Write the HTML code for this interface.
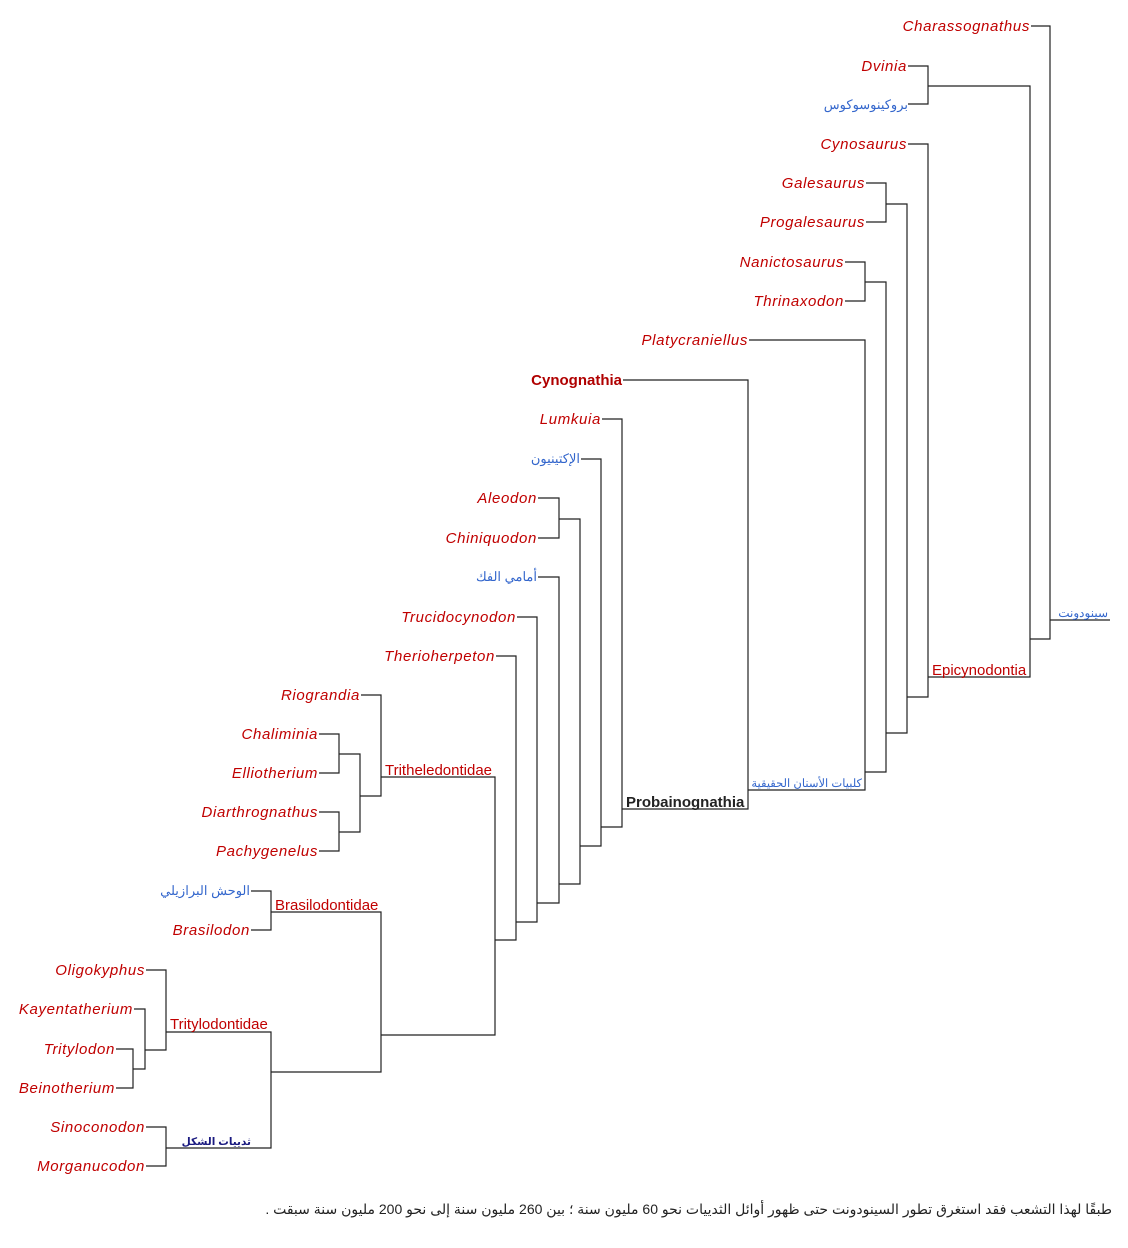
<!DOCTYPE html>
<html><head><meta charset="utf-8"><style>
html,body{margin:0;padding:0;background:#fff;width:1128px;height:1248px;overflow:hidden}
svg{position:absolute;left:0;top:0}
.l{font:italic 15px "Liberation Sans",sans-serif;fill:#c00000;letter-spacing:0.65px;text-anchor:end}
.a{font:13px "Liberation Sans","Noto Sans CJK SC",sans-serif;fill:#3366cc;text-anchor:end}
.c{font:15px "Liberation Sans",sans-serif;fill:#c00000}
.cap{font:14px "Liberation Sans","DejaVu Sans",sans-serif;fill:#222}
</style></head><body>
<svg width="1128" height="1248" viewBox="0 0 1128 1248">
<g fill="none" stroke="#222" stroke-width="1.2">
<path d="M1031 26H1050V639H1030M1050 620H1110"/>
<path d="M908 66H928V104H908M928 86H1030V677H928"/>
<path d="M908 144H928V697H907"/>
<path d="M866 183H886V222H866M886 204H907V733H886"/>
<path d="M845 262H865V301H845M865 282H886V772H865"/>
<path d="M749 340H865V790H748"/>
<path d="M623 380H748V809H622"/>
<path d="M602 419H622V827H601"/>
<path d="M581 459H601V846H580"/>
<path d="M538 498H559V538H538M559 519H580V884H559"/>
<path d="M538 577H559V903H537"/>
<path d="M517 617H537V922H516"/>
<path d="M496 656H516V940H495"/>
<path d="M381 777H495V1035H381"/>
<path d="M361 695H381V796H360"/>
<path d="M319 734H339V773H319M339 754H360V832H339M319 812H339V851H319"/>
<path d="M251 891H271V930H251M271 912H381V1072H271"/>
<path d="M166 1032H271V1148H166"/>
<path d="M146 970H166V1050H145"/>
<path d="M134 1009H145V1069H133"/>
<path d="M116 1049H133V1088H116"/>
<path d="M146 1127H166V1166H146"/>
</g>
<text class="l" x="1030" y="31">Charassognathus</text>
<text class="l" x="907" y="71">Dvinia</text>
<text class="a" x="908" y="109">بروكينوسوكوس</text>
<text class="l" x="907" y="149">Cynosaurus</text>
<text class="l" x="865" y="188">Galesaurus</text>
<text class="l" x="865" y="227">Progalesaurus</text>
<text class="l" x="844" y="267">Nanictosaurus</text>
<text class="l" x="844" y="306">Thrinaxodon</text>
<text class="l" x="748" y="345">Platycraniellus</text>
<text x="622" y="385" style="font:bold 15px 'Liberation Sans',sans-serif;fill:#b00000;text-anchor:end">Cynognathia</text>
<text class="l" x="601" y="424">Lumkuia</text>
<text class="a" x="580" y="463">الإكتينيون</text>
<text class="l" x="537" y="503">Aleodon</text>
<text class="l" x="537" y="543">Chiniquodon</text>
<text class="a" x="537" y="581">أمامي الفك</text>
<text class="l" x="516" y="622">Trucidocynodon</text>
<text class="l" x="495" y="661">Therioherpeton</text>
<text class="l" x="360" y="700">Riograndia</text>
<text class="l" x="318" y="739">Chaliminia</text>
<text class="l" x="318" y="778">Elliotherium</text>
<text class="l" x="318" y="817">Diarthrognathus</text>
<text class="l" x="318" y="856">Pachygenelus</text>
<text class="a" x="250" y="895">الوحش البرازيلي</text>
<text class="l" x="250" y="935">Brasilodon</text>
<text class="l" x="145" y="975">Oligokyphus</text>
<text class="l" x="133" y="1014">Kayentatherium</text>
<text class="l" x="115" y="1054">Tritylodon</text>
<text class="l" x="115" y="1093">Beinotherium</text>
<text class="l" x="145" y="1132">Sinoconodon</text>
<text class="l" x="145" y="1171">Morganucodon</text>
<text class="c" x="932" y="675">Epicynodontia</text>
<text class="c" x="385" y="775">Tritheledontidae</text>
<text class="c" x="275" y="910">Brasilodontidae</text>
<text class="c" x="170" y="1029">Tritylodontidae</text>
<text x="626" y="807" style="font:bold 15px 'Liberation Sans',sans-serif;fill:#222">Probainognathia</text>
<text class="a" x="862" y="787" style="font-size:11.5px">كلبيات الأسنان الحقيقية</text>
<text x="251" y="1145" style="font:bold 10.5px 'Liberation Sans','DejaVu Sans',sans-serif;fill:#1a1a80;text-anchor:end">ثدييات الشكل</text>
<text class="a" x="1108" y="617" style="font-size:12px">سينودونت</text>
<text class="cap" x="1112" y="1214" direction="rtl" text-anchor="start">طبقًا لهذا التشعب فقد استغرق تطور السينودونت حتى ظهور أوائل الثدييات نحو 60 مليون سنة ؛ بين 260 مليون سنة إلى نحو 200 مليون سنة سبقت .</text>
</svg>
</body></html>
